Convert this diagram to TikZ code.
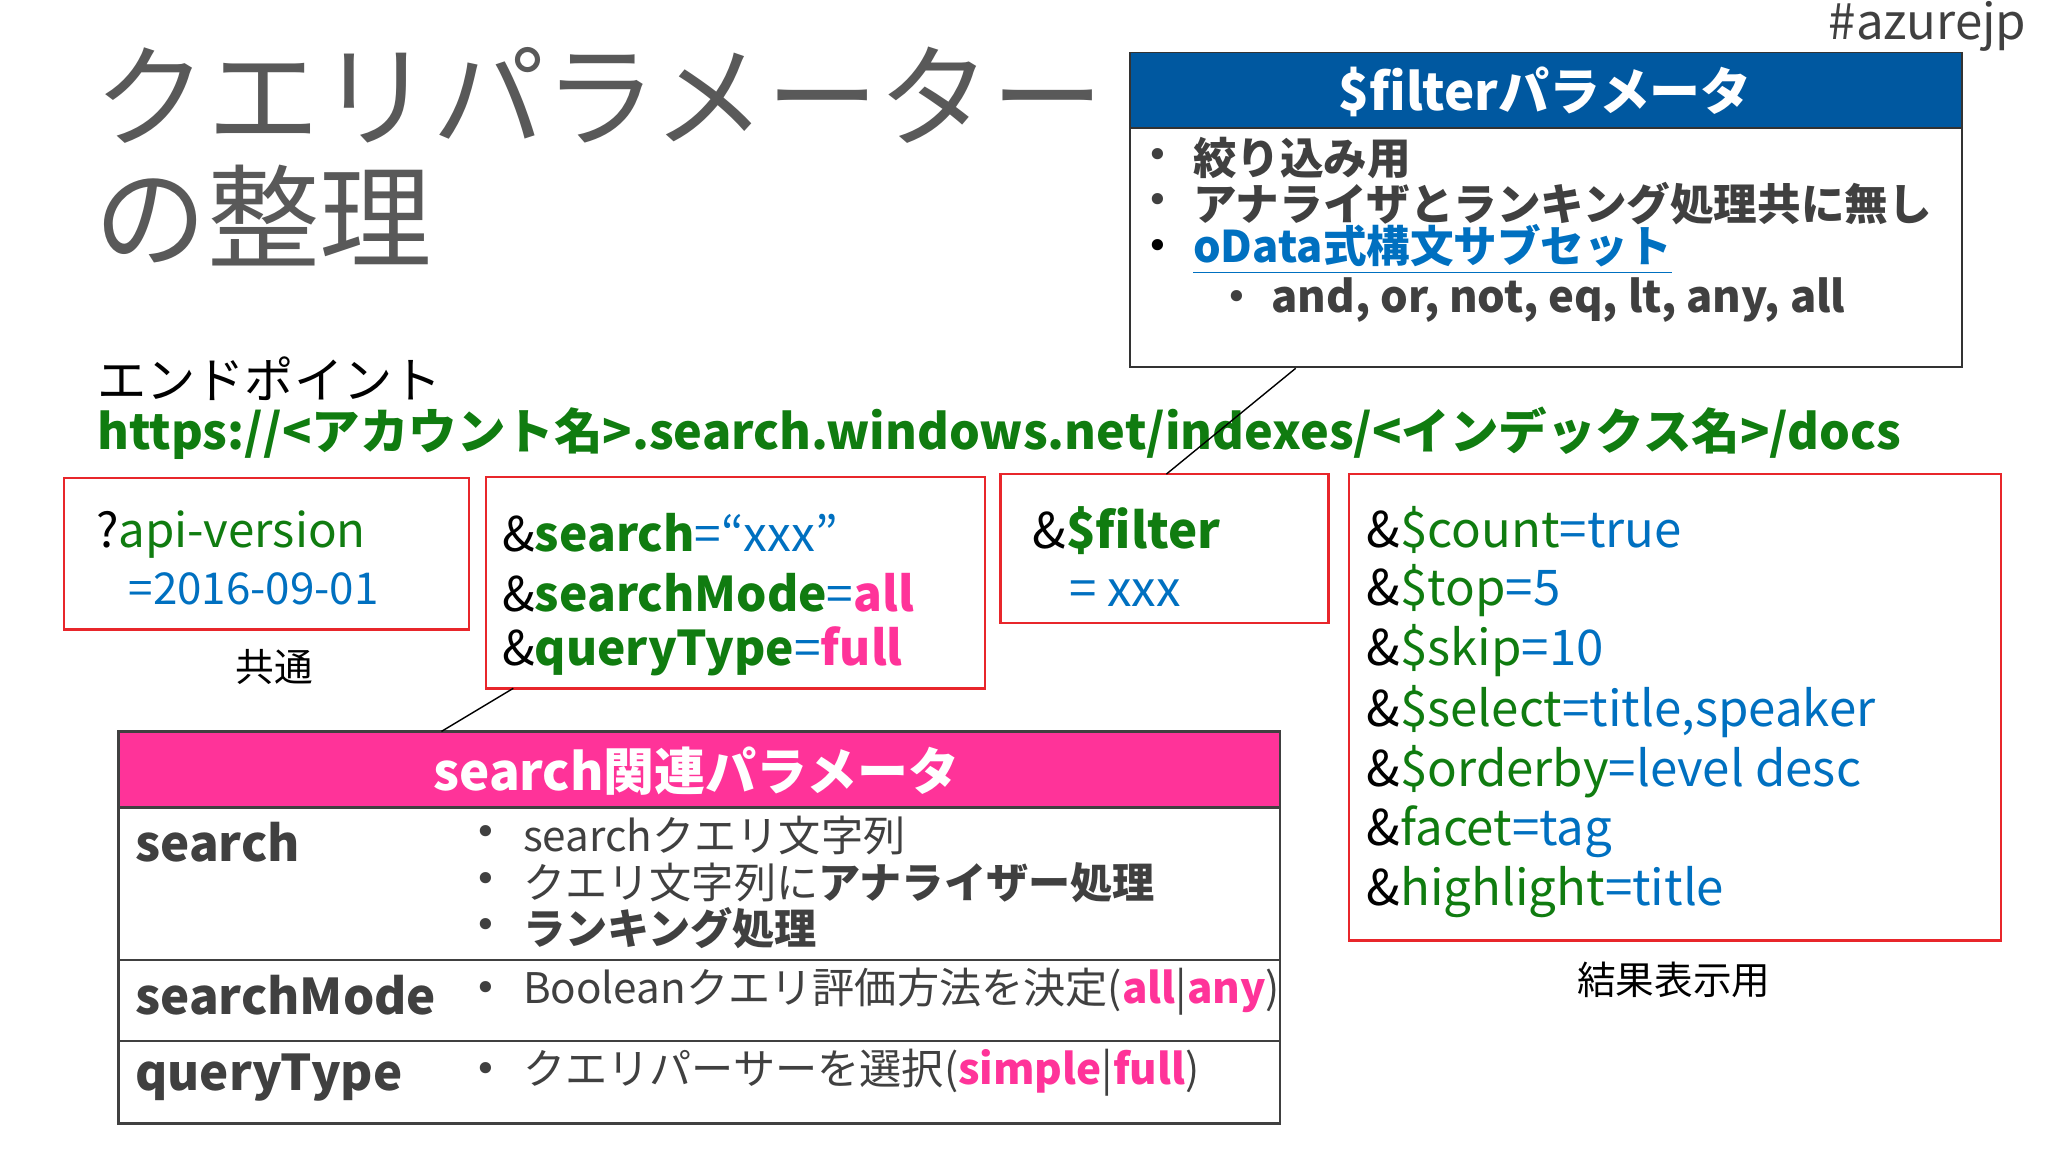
\documentclass[tikz,border=0pt]{standalone}
\usepackage{fontspec}
\setmainfont{Noto Sans CJK JP}
\newfontfamily\bulletfont{DejaVu Sans}
\definecolor{urlgreen}{RGB}{16,124,16}
\definecolor{valblue}{RGB}{0,112,192}
\definecolor{hotpink}{RGB}{255,51,153}
\definecolor{boxred}{RGB}{232,38,43}
\definecolor{headblue}{RGB}{0,88,160}
\definecolor{textgray}{RGB}{64,64,64}
\definecolor{titlegray}{RGB}{89,89,89}
\tikzset{
  txt/.style={anchor=west,inner sep=0pt},
  dot/.style={txt,font=\bulletfont\fontsize{11}{13}\selectfont},
  redbox/.style={draw=boxred,line width=0.7pt},
  qline/.style={txt,font=\fontsize{14}{17}\selectfont},
  fbody/.style={txt,text=textgray,font=\bfseries\fontsize{12.4}{15}\selectfont},
  tbl/.style={txt,text=textgray,font=\fontsize{12}{15}\selectfont},
  rowlabel/.style={txt,text=textgray,font=\bfseries\fontsize{14}{17}\selectfont},
}
\begin{document}
\begin{tikzpicture}[x=0.013061cm,y=-0.013061cm]
\useasboundingbox (0,0) rectangle (1568,882);

% title
\node[txt,text=titlegray,font=\fontsize{32}{38}\selectfont] (title1) at (72,73) {クエリパラメーター};
\node[txt,text=titlegray,font=\fontsize{32}{38}\selectfont] (title2) at (72,165) {の整理};
\node[anchor=east,inner sep=0pt,text=textgray,font=\fontsize{14}{17}\selectfont] (hashtag) at (1552,20) {\#azurejp};

% $filter box
\draw[fill=headblue,draw=black!80] (865,40) rectangle (1502,98);
\draw[draw=black!80] (865,98) rectangle (1502,281);
\node[text=white,font=\bfseries\fontsize{14.5}{17}\selectfont] (filterhead) at (1183,70) {\$filterパラメータ};
\node[dot,text=textgray] (fb1) at (877,121) {•};
\node[dot,text=textgray] (fb2) at (877,156) {•};
\node[dot] (fb3) at (877,191) {•};
\node[dot,text=textgray] (fb4) at (938,230) {•};
\node[fbody] (f1) at (913,121) {絞り込み用};
\node[fbody] (f2) at (913,156) {アナライザとランキング処理共に無し};
\node[fbody,text=valblue] (f3) at (913,191) {\underline{oData式構文サブセット}};
\node[fbody] (f4) at (973,230) {and, or, not, eq, lt, any, all};

% endpoint
\node[txt,font=\fontsize{14}{17}\selectfont] (endpoint) at (74,290) {エンドポイント};
\node[txt,text=urlgreen,font=\bfseries\fontsize{13.8}{17}\selectfont] (url) at (74,332) {https://<アカウント名>.search.windows.net/indexes/<インデックス名>/docs};

% parameter boxes
\draw[redbox] (49,366) rectangle (359,482);
\node[qline,font=\fontsize{13.5}{16}\selectfont] (api1) at (73,409) {?\textcolor{urlgreen}{api-version}};
\node[qline,text=valblue,font=\fontsize{12.5}{15}\selectfont] (api2) at (98,451) {=2016-09-01};
\node[txt,font=\fontsize{11}{13}\selectfont] (common) at (180,511) {共通};

\draw[redbox] (372,365) rectangle (754,527);
\node[qline,font=\fontsize{13.6}{16}\selectfont] (s1) at (384,408) {\&\textcolor{urlgreen}{\bfseries search}\textcolor{valblue}{=“xxx”}};
\node[qline,font=\fontsize{13.6}{16}\selectfont] (s2) at (384,454) {\&\textcolor{urlgreen}{\bfseries searchMode}\textcolor{valblue}{=}\textcolor{hotpink}{\bfseries all}};
\node[qline,font=\fontsize{13.6}{16}\selectfont] (s3) at (384,499) {\&\textcolor{urlgreen}{\bfseries queryType}\textcolor{valblue}{=}\textcolor{hotpink}{\bfseries full}};

\draw[redbox] (766,363) rectangle (1017,477);
\node[qline] (flt1) at (790,406) {\&\textcolor{urlgreen}{\bfseries \$filter}};
\node[qline,text=valblue] (flt2) at (818,454) {= xxx};

\draw[redbox] (1033,363) rectangle (1532,720);
\node[qline] (r1) at (1046,406) {\&\textcolor{urlgreen}{\$count}\textcolor{valblue}{=true}};
\node[qline] (r2) at (1046,452) {\&\textcolor{urlgreen}{\$top}\textcolor{valblue}{=5}};
\node[qline] (r3) at (1046,498) {\&\textcolor{urlgreen}{\$skip}\textcolor{valblue}{=10}};
\node[qline] (r4) at (1046,545) {\&\textcolor{urlgreen}{\$select}\textcolor{valblue}{=title,speaker}};
\node[qline] (r5) at (1046,591) {\&\textcolor{urlgreen}{\$orderby}\textcolor{valblue}{=level desc}};
\node[qline] (r6) at (1046,637) {\&\textcolor{urlgreen}{facet}\textcolor{valblue}{=tag}};
\node[qline] (r7) at (1046,683) {\&\textcolor{urlgreen}{highlight}\textcolor{valblue}{=title}};
\node[txt,font=\fontsize{11}{13}\selectfont] (result) at (1207,750) {結果表示用};

% search table
\draw[fill=hotpink,draw=textgray,line width=0.8pt] (91,560) rectangle (980,618);
\draw[draw=textgray,line width=0.8pt] (91,618) rectangle (980,860);
\draw[draw=textgray,line width=0.8pt] (91,735) -- (980,735);
\draw[draw=textgray,line width=0.8pt] (91,797) -- (980,797);
\node[text=white,font=\bfseries\fontsize{14.5}{17}\selectfont] (searchhead) at (533,590) {search関連パラメータ};
\node[rowlabel] (lsearch) at (103,645) {search};
\node[rowlabel] (lmode) at (103,762) {searchMode};
\node[rowlabel] (ltype) at (103,825) {queryType};
\node[dot,text=textgray] (tb1) at (363,640) {•};
\node[dot,text=textgray] (tb2) at (363,676) {•};
\node[dot,text=textgray] (tb3) at (363,711) {•};
\node[dot,text=textgray] (tb4) at (363,759) {•};
\node[dot,text=textgray] (tb5) at (363,821) {•};
\node[tbl] (t1) at (400,640) {searchクエリ文字列};
\node[tbl] (t2) at (400,676) {クエリ文字列に\textbf{アナライザー処理}};
\node[tbl] (t3) at (400,711) {\textbf{ランキング処理}};
\node[tbl] (t4) at (400,759) {Booleanクエリ評価方法を決定(\textcolor{hotpink}{\bfseries all}|\textcolor{hotpink}{\bfseries any})};
\node[tbl] (t5) at (400,821) {クエリパーサーを選択(\textcolor{hotpink}{\bfseries simple}|\textcolor{hotpink}{\bfseries full})};

% connectors
\coordinate (fa) at (992,282);
\coordinate (fz) at (893,363);
\draw[line width=0.4pt] (fa) -- (fz);
\coordinate (sa) at (393,527);
\coordinate (sz) at (338,560);
\draw[line width=0.4pt] (sa) -- (sz);

\end{tikzpicture}
\end{document}
